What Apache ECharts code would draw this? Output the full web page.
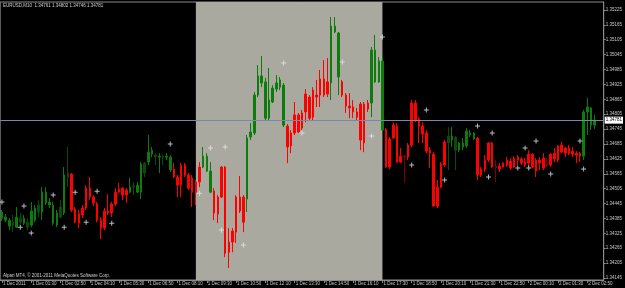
<!DOCTYPE html>
<html><head><meta charset="utf-8">
<script src="https://cdn.jsdelivr.net/npm/echarts@6.0.0/dist/echarts.min.js"></script>
<style>html,body{margin:0;padding:0;background:#000;}#c{width:625px;height:288px;}</style>
</head><body><div id="c"></div>
<script>
const symbolName = 'EURUSD', timeframe = 'M10';
const copyrightText = 'Alpari MT4, \u00A9 2001-2011 MetaQuotes Software Corp.';
// bars numbered from 1 Dec 2011 00:00 (10-minute bars); data starts at bar 1
const barOpen = [1.34386,1.34378,1.34354,1.34358,1.34350,1.34370,1.34366,1.34350,1.34358,1.34378,
1.34411,1.34411,1.34447,1.34439,1.34366,1.34358,1.34390,1.34407,1.34552,1.34564,
1.34423,1.34403,1.34427,1.34507,1.34507,1.34471,1.34443,1.34378,1.34415,1.34415,
1.34443,1.34491,1.34503,1.34507,1.34499,1.34491,1.34511,1.34491,1.34491,1.34568,
1.34612,1.34644,1.34632,1.34632,1.34632,1.34632,1.34580,1.34584,1.34552,1.34600,
1.34600,1.34560,1.34548,1.34532,1.34592,1.34592,1.34576,1.34491,1.34495,1.34471,
1.34592,1.34592,1.34290,1.34334,1.34471,1.34471,1.34471,1.34463,1.34713,1.34729,
1.34882,1.34931,1.34789,1.34789,1.34854,1.34906,1.34914,1.34761,1.34757,1.34729,
1.34802,1.34802,1.34810,1.34886,1.34874,1.34902,1.34882,1.34947,1.34947,1.34935,
1.34931,1.35136,1.34955,1.34935,1.34882,1.34838,1.34834,1.34814,1.34846,1.34846,
1.34850,1.34850,1.34935,1.34935,1.34741,1.34745,1.34705,1.34761,1.34757,1.34636,
1.34636,1.34681,1.34850,1.34850,1.34785,1.34757,1.34729,1.34660,1.34644,1.34511,
1.34604,1.34693,1.34689,1.34701,1.34660,1.34660,1.34673,1.34677,1.34721,1.34705,
1.34709,1.34584,1.34620,1.34689,1.34689,1.34596,1.34596,1.34608,1.34620,1.34616,
1.34628,1.34632,1.34624,1.34612,1.34644,1.34644,1.34620,1.34620,1.34628,1.34608,
1.34644,1.34648,1.34677,1.34681,1.34669,1.34669,1.34656,1.34648,1.34648,1.34636,
1.34814,1.34761,1.34761];
const barClose = [1.34411,1.34390,1.34378,1.34370,1.34390,1.34386,1.34386,1.34370,1.34415,1.34427,
1.34439,1.34491,1.34491,1.34451,1.34439,1.34407,1.34431,1.34560,1.34568,1.34419,
1.34370,1.34366,1.34399,1.34427,1.34471,1.34447,1.34378,1.34346,1.34346,1.34407,
1.34407,1.34443,1.34491,1.34479,1.34479,1.34511,1.34515,1.34519,1.34604,1.34608,
1.34652,1.34660,1.34640,1.34636,1.34636,1.34636,1.34632,1.34552,1.34519,1.34519,
1.34560,1.34507,1.34491,1.34491,1.34532,1.34636,1.34636,1.34576,1.34407,1.34403,
1.34471,1.34245,1.34249,1.34290,1.34330,1.34415,1.34370,1.34709,1.34733,1.34882,
1.34959,1.34959,1.34935,1.34862,1.34910,1.34931,1.34943,1.34922,1.34673,1.34677,
1.34729,1.34733,1.34749,1.34814,1.34789,1.34793,1.34874,1.34882,1.34882,1.34886,
1.35160,1.35160,1.35132,1.34882,1.34838,1.34830,1.34814,1.34793,1.34701,1.34689,
1.34826,1.35063,1.35063,1.35019,1.35019,1.34592,1.34592,1.34709,1.34612,1.34612,
1.34632,1.34632,1.34681,1.34777,1.34757,1.34725,1.34656,1.34648,1.34435,1.34435,
1.34511,1.34600,1.34717,1.34717,1.34713,1.34689,1.34689,1.34737,1.34729,1.34729,
1.34560,1.34560,1.34584,1.34620,1.34592,1.34588,1.34584,1.34592,1.34600,1.34588,
1.34592,1.34620,1.34608,1.34600,1.34608,1.34592,1.34576,1.34608,1.34588,1.34600,
1.34600,1.34624,1.34620,1.34652,1.34648,1.34648,1.34644,1.34640,1.34636,1.34814,
1.34834,1.34830,1.34781];
const barLow = [1.34374,1.34370,1.34338,1.34330,1.34346,1.34362,1.34358,1.34338,1.34350,1.34370,
1.34390,1.34378,1.34439,1.34427,1.34358,1.34350,1.34386,1.34399,1.34511,1.34411,
1.34366,1.34346,1.34386,1.34419,1.34459,1.34435,1.34370,1.34302,1.34338,1.34399,
1.34390,1.34435,1.34487,1.34459,1.34447,1.34487,1.34479,1.34487,1.34463,1.34552,
1.34600,1.34632,1.34600,1.34568,1.34600,1.34620,1.34572,1.34548,1.34471,1.34471,
1.34552,1.34499,1.34431,1.34439,1.34511,1.34588,1.34572,1.34487,1.34378,1.34366,
1.34467,1.34229,1.34185,1.34249,1.34286,1.34407,1.34330,1.34411,1.34701,1.34721,
1.34874,1.34914,1.34781,1.34781,1.34850,1.34894,1.34902,1.34753,1.34608,1.34648,
1.34721,1.34729,1.34741,1.34773,1.34781,1.34781,1.34834,1.34834,1.34874,1.34874,
1.34862,1.35132,1.34882,1.34874,1.34810,1.34789,1.34789,1.34781,1.34660,1.34652,
1.34814,1.34793,1.34931,1.34931,1.34733,1.34588,1.34584,1.34705,1.34608,1.34608,
1.34528,1.34620,1.34673,1.34773,1.34689,1.34689,1.34648,1.34588,1.34431,1.34427,
1.34507,1.34592,1.34580,1.34673,1.34580,1.34652,1.34660,1.34669,1.34713,1.34701,
1.34540,1.34552,1.34572,1.34612,1.34588,1.34532,1.34572,1.34590,1.34592,1.34580,
1.34588,1.34600,1.34600,1.34592,1.34592,1.34588,1.34552,1.34580,1.34580,1.34592,
1.34592,1.34612,1.34612,1.34648,1.34632,1.34640,1.34632,1.34608,1.34612,1.34620,
1.34721,1.34741,1.34746];
const barHigh = [1.34419,1.34403,1.34386,1.34399,1.34431,1.34407,1.34399,1.34386,1.34451,1.34439,
1.34459,1.34511,1.34511,1.34467,1.34451,1.34419,1.34459,1.34592,1.34673,1.34568,
1.34431,1.34419,1.34439,1.34519,1.34552,1.34479,1.34451,1.34390,1.34427,1.34483,
1.34451,1.34507,1.34528,1.34511,1.34507,1.34548,1.34532,1.34532,1.34612,1.34612,
1.34721,1.34673,1.34648,1.34648,1.34640,1.34648,1.34640,1.34608,1.34560,1.34608,
1.34608,1.34568,1.34560,1.34540,1.34612,1.34673,1.34648,1.34612,1.34507,1.34479,
1.34596,1.34596,1.34346,1.34346,1.34479,1.34556,1.34479,1.34721,1.34769,1.34894,
1.35003,1.35039,1.34951,1.34991,1.34922,1.34963,1.34955,1.34931,1.34765,1.34741,
1.34854,1.34810,1.34822,1.34906,1.34882,1.34914,1.34943,1.34983,1.35023,1.35031,
1.35196,1.35196,1.35136,1.34943,1.34890,1.34890,1.34862,1.34830,1.34854,1.34854,
1.34862,1.35076,1.35124,1.35035,1.35043,1.34749,1.34713,1.34773,1.34769,1.34669,
1.34640,1.34689,1.34862,1.34862,1.34793,1.34773,1.34741,1.34673,1.34652,1.34540,
1.34612,1.34701,1.34753,1.34753,1.34717,1.34693,1.34709,1.34749,1.34741,1.34733,
1.34713,1.34592,1.34640,1.34693,1.34693,1.34620,1.34608,1.34612,1.34632,1.34628,
1.34636,1.34640,1.34632,1.34628,1.34660,1.34648,1.34628,1.34632,1.34648,1.34628,
1.34648,1.34669,1.34681,1.34693,1.34673,1.34681,1.34673,1.34656,1.34652,1.34822,
1.34870,1.34834,1.34802];
const dimBars = [4,6,8,11,17,19,37,40,43,45,111,123,125,136,150];
const arrowBars = [1,6,7,9,15,18,21,24,27,31,47,55,58,61,62,67,78,83,94,102,105,113,117,122,131,134,135,142,144,145,147,151,159,160];
const arrowPrices = [1.34451,1.34350,1.34435,1.34326,1.34479,1.34350,1.34491,1.34370,1.34495,1.34366,
1.34685,1.34487,1.34669,1.34338,1.34673,1.34278,1.35011,1.34729,1.35015,1.34717,
1.35116,1.34600,1.34822,1.34540,1.34757,1.34552,1.34729,1.34588,1.34669,1.34588,
1.34697,1.34564,1.34697,1.34584];
const xTickBars = [1,9,17,25,33,41,49,57,65,73,81,89,97,105,113,121,129,137,145,153,161];
const xTickLabels = ['1 Dec 2011','1 Dec 01:30','1 Dec 02:50','1 Dec 04:10','1 Dec 05:30','1 Dec 06:50','1 Dec 08:10',
'1 Dec 09:30','1 Dec 10:50','1 Dec 12:10','1 Dec 13:30','1 Dec 14:50','1 Dec 16:10','1 Dec 17:30','1 Dec 18:50',
'1 Dec 20:10','1 Dec 21:30','1 Dec 22:50','2 Dec 00:10','2 Dec 01:30','2 Dec 02:50'];
const yTickValues = [1.34145,1.34205,1.34265,1.34325,1.34385,1.34445,1.34505,1.34565,1.34625,1.34685,
1.34745,1.34805,1.34865,1.34925,1.34985,1.35045,1.35105,1.35165,1.35225];
const sessionStartBar = 54, sessionEndBar = 105;
const slotCount = 165;

const cats = [];
for (let b = 1; b <= slotCount; b++) {
  const m = b * 10, day = m >= 1440 ? 2 : 1, mm = m % 1440;
  cats.push(day + ' Dec ' + String(Math.floor(mm / 60)).padStart(2, '0') + ':' + String(mm % 60).padStart(2, '0'));
}
const labelMap = {};
xTickBars.forEach((b, i) => { labelMap[b - 1] = xTickLabels[i]; });
const UP = '#0c7c0c', DOWN = '#ff0000', UPDIM = '#0b4a0b', DOWNDIM = '#7e0000';
const candleData = barOpen.map((o, i) => {
  const item = { value: [o, barClose[i], barLow[i], barHigh[i]] };
  if (dimBars.includes(i + 1)) {
    const c = barClose[i] > o ? UPDIM : DOWNDIM;
    item.itemStyle = { color: c, color0: c, borderColor: c, borderColor0: c };
  }
  return item;
});
const last = barOpen.length - 1;
const f5 = v => v.toFixed(5);
const titleText = symbolName + ',' + timeframe + '  ' + f5(barOpen[last]) + ' ' + f5(barHigh[last]) + ' ' + f5(barLow[last]) + ' ' + f5(barClose[last]);
const FONT = 'Liberation Sans';

const chart = echarts.init(document.getElementById('c'), null, { renderer: 'canvas' });
chart.setOption({
  backgroundColor: '#000',
  animation: false,
  grid: { left: -1.3, top: 2, right: 18, bottom: 8, show: true, borderColor: '#8a8a8a', borderWidth: 1 },
  xAxis: {
    type: 'category', data: cats, boundaryGap: true,
    axisLine: { show: true, lineStyle: { color: '#8a8a8a', width: 1 } },
    axisTick: { show: true, alignWithLabel: true, length: 3, interval: (idx) => labelMap[idx] !== undefined, lineStyle: { color: '#8a8a8a' } },
    axisLabel: { show: true, interval: (idx) => labelMap[idx] !== undefined, formatter: (v, idx) => labelMap[idx] || '',
      align: 'left', padding: [0, 0, 0, 1], margin: 1, fontSize: 4.5, fontFamily: FONT, color: '#c8c8c8' },
    splitLine: { show: false }
  },
  yAxis: {
    type: 'value', position: 'right', min: 1.34137, max: 1.35257, scale: true,
    splitLine: { show: false },
    axisLine: { show: true, lineStyle: { color: '#8a8a8a', width: 1 } },
    axisTick: { show: true, customValues: yTickValues, length: 2, lineStyle: { color: '#8a8a8a' } },
    axisLabel: { show: true, customValues: yTickValues, formatter: v => v.toFixed(5), margin: 2, fontSize: 4.5, fontFamily: FONT, color: '#c8c8c8' }
  },
  series: [
    { type: 'line', data: [], z: 1, silent: true,
      markArea: { silent: true, itemStyle: { color: '#aaa99f' },
        data: [[{ xAxis: cats[sessionStartBar - 1] }, { xAxis: cats[sessionEndBar - 1] }]] } },
    { type: 'candlestick', data: candleData, barWidth: 2, z: 3, silent: true,
      itemStyle: { color: UP, color0: DOWN, borderColor: UP, borderColor0: DOWN, borderWidth: 1 } },
    { type: 'line', data: [], z: 5, silent: true,
      markLine: { silent: true, symbol: ['none', 'none'], animation: false, precision: 5,
        lineStyle: { color: '#7888a8', width: 1, type: 'solid' },
        label: { show: true, position: 'end', distance: 1, formatter: f5(barClose[last]), backgroundColor: '#ffffff',
          color: '#000', fontSize: 4.5, fontFamily: FONT, padding: [1, 1] },
        data: [{ yAxis: barClose[last] }] } },
    { type: 'scatter', z: 4, silent: true,
      data: arrowBars.map((b, i) => [cats[b - 1], arrowPrices[i]]),
      symbol: 'path://M2,0 L3,0 L3,2 L5,2 L5,3 L3,3 L3,5 L2,5 L2,3 L0,3 L0,2 L2,2 Z',
      symbolSize: 5, itemStyle: { color: '#e6e6f2' } }
  ],
  graphic: [
    { type: 'text', left: 3, top: 3, silent: true, style: { text: titleText, fill: '#d0d0d0', fontSize: 4.5, fontFamily: FONT } },
    { type: 'text', left: 3, top: 273, silent: true, style: { text: copyrightText, fill: '#d0d0d0', fontSize: 4.5, fontFamily: FONT } }
  ]
});
</script></body></html>
